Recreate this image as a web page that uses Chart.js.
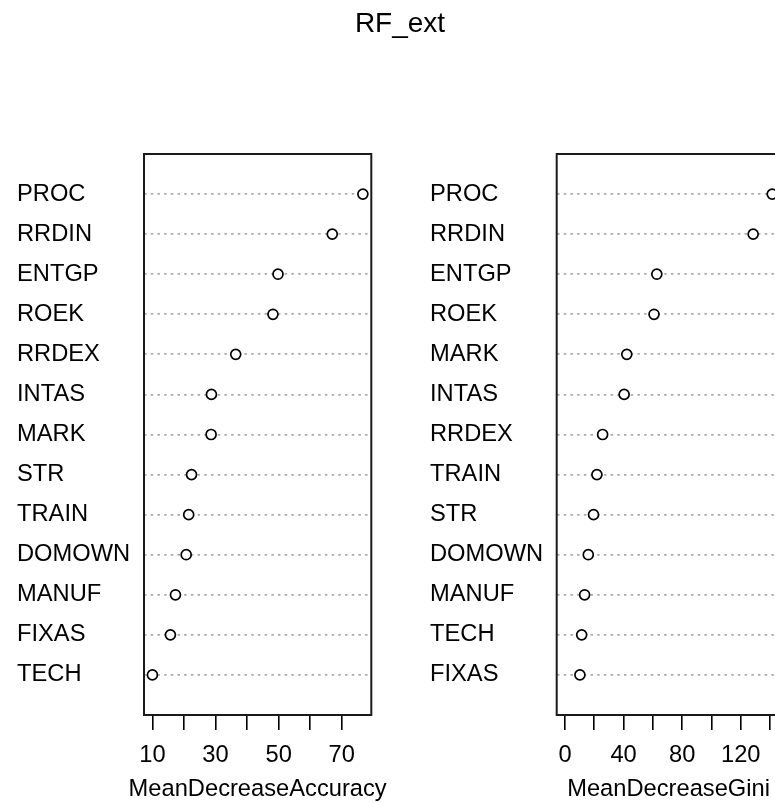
<!DOCTYPE html>
<html><head><meta charset="utf-8">
<script src="https://cdn.jsdelivr.net/npm/chart.js@4.4.1/dist/chart.umd.min.js"></script>
<style>
html,body{margin:0;padding:0;background:#fff;overflow:hidden;width:775px;height:803px;}
#title{position:absolute;left:0;width:800px;top:9px;text-align:center;font:28px "Liberation Sans",Arial,sans-serif;line-height:28px;color:#000;}
.xt{position:absolute;top:776px;width:400px;text-align:center;font:23.7px "Liberation Sans",Arial,sans-serif;line-height:24px;color:#000;white-space:nowrap;}
#w1{position:absolute;left:0;top:0;width:400px;height:803px;}
#w2{position:absolute;left:400px;top:0;width:400px;height:803px;}
</style></head><body>
<div id="w1"><canvas id="c1" width="400" height="803"></canvas></div>
<div id="w2"><canvas id="c2" width="400" height="803"></canvas></div>
<div id="title">RF_ext</div>
<div class="xt" id="xt1"></div>
<div class="xt" id="xt2"></div>
<script>
const accLabels = ['PROC','RRDIN','ENTGP','ROEK','RRDEX','INTAS','MARK','STR','TRAIN','DOMOWN','MANUF','FIXAS','TECH'];
const accValues = [76.7,67.0,49.8,48.2,36.4,28.7,28.6,22.4,21.5,20.7,17.3,15.7,10.0];
const accTicks = [10,20,30,40,50,60,70];
const accTickLabels = ['10','','30','','50','','70'];
const giniLabels = ['PROC','RRDIN','ENTGP','ROEK','MARK','INTAS','RRDEX','TRAIN','STR','DOMOWN','MANUF','TECH','FIXAS'];
const giniValues = [141.5,128.5,62.7,60.8,42.2,40.4,25.7,21.8,19.5,15.9,13.4,11.4,10.2];
const giniTicks = [0,20,40,60,80,100,120,140];
const giniTickLabels = ['0','','40','','80','','120',''];

const FF = '"Liberation Sans", Arial, sans-serif';
const FS = 23.7;

const boxPlugin = {id:'box', afterDatasetsDraw(chart){
  const {ctx, chartArea:a} = chart;
  ctx.save(); ctx.strokeStyle='#1a1a1a'; ctx.lineWidth=2;
  ctx.strokeRect(a.left, a.top, a.right-a.left, a.bottom-a.top);
  ctx.restore();
}};

function panel(id, titleId, labels, values, ticks, tickLabels, fromZero, xTitle, pad, yWidth, canvasLeft){
  const n = labels.length;
  const lo = fromZero ? 0 : Math.min(...values);
  const hi = Math.max(...values);
  const ext = 0.04*(hi-lo);
  const pts = values.map((v,i)=>({x:v, y:n-i}));
  const chart = new Chart(document.getElementById(id), {
    type:'scatter',
    data:{datasets:[{data:pts, pointStyle:'circle', pointRadius:5, pointHoverRadius:5, pointBorderWidth:1.7, borderColor:'#000', backgroundColor:'#fff'}]},
    options:{
      responsive:false, animation:false, events:[],
      layout:{padding:pad},
      plugins:{legend:{display:false}, tooltip:{enabled:false}},
      scales:{
        x:{type:'linear', min:lo-ext, max:hi+ext,
          afterBuildTicks:s=>{s.ticks = ticks.map(v=>({value:v}));},
          afterFit:s=>{s.height = 88;},
          grid:{display:true, drawOnChartArea:false, drawTicks:true, tickLength:15, color:'#000', lineWidth:1.6},
          border:{display:false},
          ticks:{autoSkip:false, maxRotation:0, padding:11, color:'#000', font:{family:FF, size:FS},
            callback:(v)=>{const k=ticks.indexOf(v); return k>=0 ? tickLabels[k] : '';}},
          title:{display:false}
        },
        y:{type:'linear', min:0, max:n+1,
          afterBuildTicks:s=>{s.ticks = labels.map((l,i)=>({value:n-i}));},
          afterFit:s=>{s.width = yWidth;},
          grid:{display:true, drawTicks:false, color:'#ababab', lineWidth:1.8},
          border:{display:false, dash:[2.5,4.2]},
          ticks:{autoSkip:false, crossAlign:'far', padding:0, color:'#000', font:{family:FF, size:FS},
            callback:(v)=>labels[n-v]}
        }
      }
    },
    plugins:[boxPlugin]
  });
  const a = chart.chartArea;
  const t = document.getElementById(titleId);
  t.textContent = xTitle;
  t.style.left = (canvasLeft + (a.left + a.right)/2 - 200) + 'px';
  return chart;
}

panel('c1', 'xt1', accLabels, accValues, accTicks, accTickLabels, false, 'MeanDecreaseAccuracy', {left:17, top:154, right:28.7, bottom:0}, 127, 0);
panel('c2', 'xt2', giniLabels, giniValues, giniTicks, giniTickLabels, true, 'MeanDecreaseGini', {left:30, top:154, right:19.5, bottom:0}, 126.7, 400);
</script>
</body></html>
